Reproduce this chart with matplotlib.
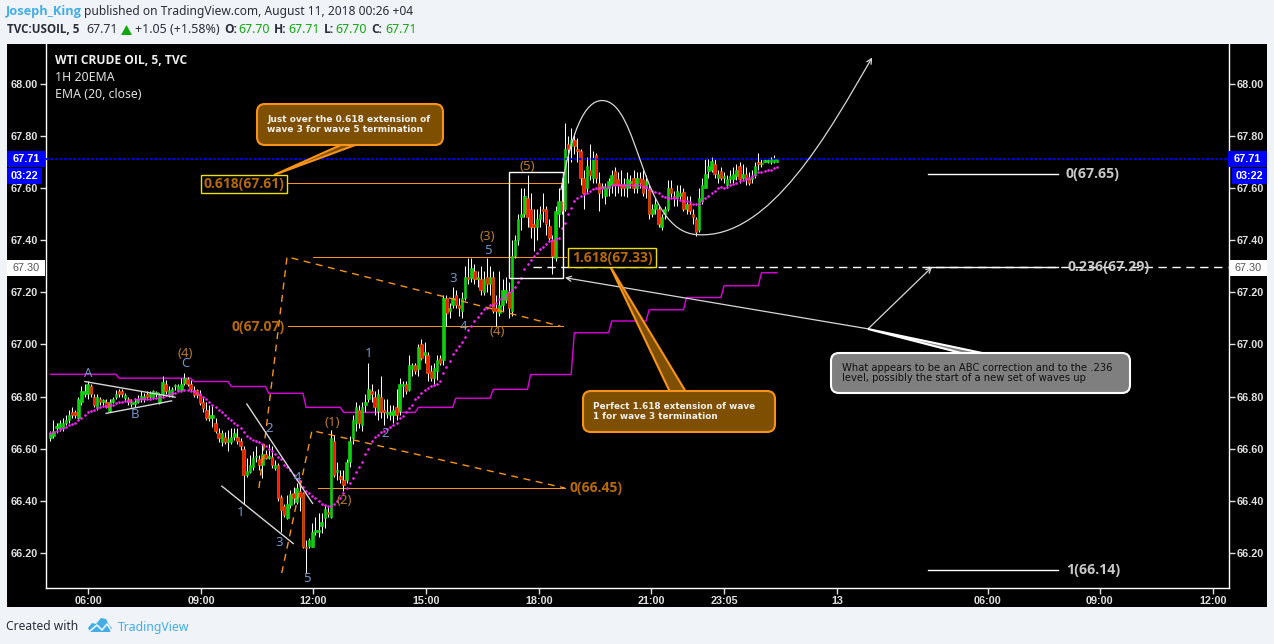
import numpy as np
import matplotlib
matplotlib.use("Agg")
import matplotlib.pyplot as plt
from matplotlib.patches import FancyBboxPatch, FancyArrowPatch, Polygon, Rectangle
from matplotlib.path import Path

# 5 minute candles
opens = [66.64,66.65,66.68,66.68,66.68,66.70,66.71,66.74,66.74,66.72,
    66.78,66.81,66.81,66.84,66.80,66.76,66.79,66.78,66.78,66.745,
    66.78,66.80,66.82,66.82,66.795,66.79,66.772,66.772,66.78,66.79,
    66.79,66.81,66.80,66.80,66.81,66.777,66.81,66.85,66.81,66.807,
    66.84,66.824,66.826,66.854,66.867,66.85,66.826,66.824,66.81,66.78,
    66.75,66.72,66.72,66.698,66.66,66.628,66.647,66.628,66.628,66.647,
    66.647,66.63,66.598,66.50,66.513,66.532,66.568,66.56,66.538,66.58,
    66.566,66.568,66.528,66.54,66.417,66.38,66.336,66.385,66.43,66.395,
    66.44,66.43,66.225,66.228,66.225,66.28,66.28,66.306,66.334,66.358,
    66.338,66.63,66.51,66.497,66.48,66.48,66.55,66.64,66.70,66.75,
    66.69,66.77,66.79,66.82,66.80,66.745,66.80,66.75,66.735,66.73,
    66.73,66.76,66.746,66.84,66.85,66.825,66.905,66.92,66.906,67.00,
    66.96,66.96,66.90,66.87,66.90,66.95,66.94,67.18,67.13,67.15,
    67.19,67.15,67.13,67.18,67.26,67.255,67.28,67.25,67.25,67.20,
    67.26,67.23,67.26,67.14,67.12,67.15,67.17,67.20,67.13,67.34,
    67.40,67.49,67.50,67.56,67.52,67.46,67.45,67.48,67.52,67.52,
    67.455,67.40,67.33,67.50,67.55,67.52,67.77,67.76,67.785,67.75,
    67.74,67.64,67.60,67.67,67.64,67.725,67.62,67.60,67.57,67.60,
    67.61,67.665,67.635,67.615,67.615,67.60,67.62,67.64,67.60,67.64,
    67.635,67.60,67.595,67.50,67.52,67.52,67.45,67.50,67.52,67.60,
    67.57,67.56,67.57,67.585,67.52,67.54,67.50,67.48,67.44,67.55,
    67.60,67.665,67.67,67.69,67.64,67.665,67.64,67.61,67.635,67.635,
    67.645,67.685,67.64,67.655,67.635,67.635,67.65,67.70,67.69,67.70,
    67.70,67.70,67.70,67.70]
highs = [66.67,66.71,66.70,66.71,66.72,66.73,66.75,66.76,66.75,66.80,
    66.84,66.85,66.86,66.85,66.81,66.81,66.80,66.79,66.79,66.79,
    66.80,66.825,66.83,66.83,66.815,66.80,66.79,66.795,66.807,66.82,
    66.814,66.82,66.82,66.826,66.82,66.813,66.88,66.862,66.84,66.836,
    66.85,66.85,66.87,66.89,66.875,66.865,66.84,66.83,66.826,66.80,
    66.78,66.77,66.77,66.717,66.68,66.673,66.666,66.673,66.68,66.68,
    66.68,66.64,66.61,66.564,66.577,66.59,66.61,66.577,66.62,66.596,
    66.62,66.61,66.558,66.545,66.423,66.39,66.423,66.442,66.455,66.468,
    66.468,66.436,66.25,66.257,66.315,66.34,66.353,66.353,66.385,66.378,
    66.672,66.654,66.55,66.52,66.52,66.56,66.65,66.73,66.78,66.77,
    66.78,66.81,66.93,66.85,66.82,66.83,66.88,66.79,66.79,66.77,
    66.77,66.83,66.87,66.86,66.86,66.96,66.93,66.93,67.00,67.02,
    67.01,66.97,66.92,66.93,66.96,66.96,67.19,67.19,67.16,67.22,
    67.21,67.18,67.20,67.30,67.33,67.33,67.31,67.28,67.30,67.28,
    67.33,67.30,67.28,67.19,67.28,67.25,67.26,67.24,67.40,67.42,
    67.50,67.60,67.60,67.65,67.58,67.52,67.52,67.53,67.58,67.53,
    67.48,67.42,67.53,67.60,67.64,67.85,67.80,67.83,67.81,67.79,
    67.75,67.67,67.72,67.77,67.74,67.735,67.66,67.62,67.62,67.64,
    67.67,67.68,67.66,67.67,67.64,67.66,67.65,67.67,67.66,67.66,
    67.67,67.65,67.61,67.54,67.56,67.53,67.50,67.53,67.63,67.63,
    67.59,67.61,67.61,67.60,67.57,67.57,67.52,67.49,67.60,67.64,
    67.71,67.71,67.72,67.71,67.67,67.68,67.66,67.65,67.67,67.68,
    67.69,67.70,67.69,67.68,67.66,67.67,67.70,67.735,67.71,67.71,
    67.71,67.72,67.725,67.71]
lows = [66.63,66.64,66.66,66.67,66.67,66.69,66.70,66.72,66.72,66.71,
    66.77,66.80,66.79,66.80,66.76,66.75,66.77,66.76,66.755,66.74,
    66.775,66.79,66.80,66.80,66.785,66.77,66.762,66.762,66.775,66.78,
    66.78,66.79,66.79,66.79,66.80,66.773,66.80,66.81,66.80,66.80,
    66.825,66.82,66.82,66.845,66.84,66.82,66.80,66.795,66.77,66.743,
    66.71,66.705,66.685,66.66,66.628,66.61,66.62,66.593,66.62,66.634,
    66.62,66.596,66.39,66.494,66.506,66.52,66.55,66.52,66.487,66.56,
    66.56,66.526,66.52,66.40,66.283,66.34,66.333,66.372,66.39,66.39,
    66.36,66.22,66.123,66.22,66.222,66.27,66.263,66.276,66.295,66.34,
    66.334,66.494,66.48,66.47,66.44,66.47,66.53,66.62,66.67,66.68,
    66.67,66.74,66.78,66.78,66.73,66.71,66.72,66.69,66.72,66.71,
    66.70,66.71,66.73,66.80,66.81,66.82,66.88,66.885,66.88,66.94,
    66.93,66.86,66.86,66.85,66.865,66.92,66.92,67.07,67.10,67.14,
    67.14,67.11,67.10,67.17,67.23,67.24,67.23,67.22,67.19,67.19,
    67.20,67.19,67.12,67.07,67.11,67.13,67.16,67.10,67.11,67.33,
    67.38,67.44,67.49,67.45,67.41,67.36,67.40,67.45,67.47,67.42,
    67.40,67.27,67.32,67.45,67.50,67.51,67.62,67.70,67.73,67.70,
    67.61,67.52,67.58,67.63,67.62,67.62,67.51,67.56,67.54,67.57,
    67.58,67.57,67.58,67.57,67.57,67.565,67.60,67.58,67.58,67.60,
    67.57,67.56,67.48,67.49,67.50,67.45,67.44,67.48,67.51,67.56,
    67.53,67.53,67.555,67.51,67.50,67.50,67.46,67.415,67.43,67.54,
    67.60,67.64,67.66,67.64,67.62,67.63,67.62,67.60,67.62,67.62,
    67.63,67.62,67.63,67.61,67.61,67.62,67.64,67.67,67.68,67.70,
    67.695,67.69,67.695,67.70]
closes = [66.66,66.67,66.68,66.70,66.70,66.71,66.73,66.73,66.73,66.79,
    66.82,66.82,66.85,66.81,66.77,66.80,66.78,66.78,66.76,66.78,
    66.79,66.81,66.81,66.81,66.805,66.78,66.78,66.78,66.79,66.803,
    66.803,66.798,66.813,66.82,66.81,66.807,66.858,66.82,66.826,66.83,
    66.84,66.84,66.85,66.87,66.85,66.83,66.807,66.807,66.777,66.758,
    66.72,66.73,66.73,66.67,66.64,66.66,66.628,66.638,66.647,66.66,
    66.63,66.61,66.50,66.517,66.538,66.564,66.568,66.538,66.58,66.566,
    66.57,66.538,66.54,66.41,66.366,66.346,66.387,66.427,66.41,66.449,
    66.417,66.225,66.22,66.25,66.28,66.29,66.29,66.318,66.368,66.35,
    66.64,66.50,66.52,66.483,66.46,66.55,66.63,66.71,66.76,66.70,
    66.76,66.78,66.83,66.81,66.76,66.81,66.74,66.74,66.735,66.74,
    66.75,66.73,66.85,66.85,66.82,66.92,66.92,66.90,66.99,66.95,
    66.97,66.89,66.87,66.91,66.94,66.93,67.18,67.12,67.14,67.18,
    67.15,67.14,67.18,67.26,67.25,67.295,67.25,67.26,67.21,67.25,
    67.23,67.26,67.13,67.13,67.15,67.21,67.21,67.14,67.34,67.40,
    67.48,67.50,67.57,67.49,67.45,67.45,67.48,67.50,67.51,67.46,
    67.41,67.34,67.51,67.55,67.51,67.75,67.75,67.785,67.76,67.74,
    67.64,67.58,67.685,67.65,67.715,67.64,67.58,67.60,67.60,67.625,
    67.65,67.61,67.61,67.60,67.60,67.635,67.62,67.60,67.64,67.62,
    67.58,67.625,67.50,67.52,67.54,67.46,67.49,67.52,67.60,67.58,
    67.56,67.59,67.58,67.52,67.54,67.51,67.49,67.43,67.56,67.61,
    67.655,67.685,67.705,67.655,67.655,67.64,67.64,67.635,67.645,67.655,
    67.67,67.635,67.655,67.635,67.62,67.64,67.685,67.69,67.695,67.705,
    67.70,67.71,67.71,67.71]

# the dotted EMA (20, close)
ema_20 = [66.66,66.665,66.67,66.675,66.68,66.685,66.69,66.695,66.70,66.71,
    66.72,66.73,66.74,66.745,66.75,66.755,66.76,66.765,66.765,66.77,
    66.77,66.775,66.78,66.78,66.785,66.785,66.785,66.79,66.79,66.79,
    66.79,66.79,66.79,66.795,66.795,66.80,66.80,66.805,66.81,66.815,
    66.815,66.82,66.82,66.825,66.825,66.82,66.82,66.815,66.81,66.80,
    66.79,66.78,66.77,66.76,66.75,66.74,66.73,66.72,66.71,66.70,
    66.69,66.68,66.665,66.65,66.64,66.635,66.63,66.625,66.62,66.61,
    66.60,66.59,66.58,66.57,66.56,66.54,66.53,66.52,66.50,66.485,
    66.475,66.455,66.44,66.43,66.42,66.41,66.40,66.39,66.385,66.38,
    66.38,66.39,66.40,66.41,66.43,66.45,66.47,66.49,66.51,66.53,
    66.55,66.58,66.60,66.63,66.645,66.655,66.665,66.67,66.675,66.685,
    66.69,66.70,66.72,66.725,66.74,66.755,66.77,66.79,66.80,66.815,
    66.825,66.835,66.84,66.845,66.85,66.86,66.89,66.915,66.935,66.965,
    66.98,66.995,67.01,67.03,67.055,67.07,67.09,67.105,67.12,67.135,
    67.14,67.15,67.15,67.16,67.175,67.18,67.19,67.20,67.21,67.22,
    67.24,67.255,67.29,67.31,67.325,67.34,67.35,67.365,67.375,67.385,
    67.395,67.40,67.405,67.41,67.445,67.465,67.50,67.525,67.55,67.56,
    67.57,67.575,67.58,67.59,67.595,67.60,67.60,67.60,67.605,67.605,
    67.61,67.61,67.61,67.61,67.61,67.61,67.61,67.61,67.61,67.61,
    67.605,67.605,67.595,67.59,67.585,67.58,67.57,67.565,67.56,67.56,
    67.56,67.56,67.555,67.55,67.55,67.545,67.54,67.54,67.54,67.55,
    67.56,67.57,67.58,67.59,67.60,67.605,67.60,67.605,67.61,67.615,
    67.62,67.625,67.63,67.635,67.64,67.645,67.65,67.66,67.66,67.665,
    67.67,67.67,67.675,67.68]

# the 1H 20EMA holds one level per hour
ema_1h_levels = [66.886,66.871,66.858,66.839,66.813,66.759,66.74,66.759,66.794,66.828,
    66.885,67.045,67.09,67.133,67.18,67.225,67.275]
ema_1h_bars = [22,24,12,12,12,12,24,12,12,12,14,12,12,12,12,12,6]

price_ticks = [68.0,67.8,67.6,67.4,67.2,67.0,66.8,66.6,66.4,66.2]
time_ticks = [12.1,48.3,84.2,120.5,156.7,192.6,216,252.2,300.6,336.5,372.8]
time_labels = ["06:00","09:00","12:00","15:00","18:00","21:00","23:05","13","06:00","09:00","12:00"]
last_price = 67.71

# wave counts: text, x pixel, y pixel
blue_waves = [("A",88,373),("B",135,414),("C",185,363),("1",241,513),("2",269,428),("3",279,542),
    ("4",297,477),("5",307,579),("1",369,353),("2",385,433),("3",453,278),("4",463,326),("5",488,250)]
orange_waves = [("(4)",185,353),("(1)",332,422),("(2)",344,500),("(3)",487,236),("(4)",497,331),("(5)",527,166)]

WIDTH, HEIGHT = 1274, 644
PAGE = "#f0f3f7"
LINK = "#43aee6"
ORANGE = "#f7931a"
BROWN = "#7f4f00"
LABEL_ORANGE = "#b8690a"
GREY = "#e0e0e0"
UI_FONT = "Noto Sans"
BOLD_FONT = "Open Sans"
PRICE_FONT = "Liberation Sans"
ONE_PX = 0.72


def draw_candles(ax):
    bars = np.arange(len(closes))
    o, h, l, c = map(np.array, (opens, highs, lows, closes))
    up = c >= o
    ax.vlines(bars, l, h, color="white", lw=ONE_PX, zorder=3)
    ax.bar(bars[up], np.maximum(c[up] - o[up], 0.006), bottom=o[up], width=0.8, color="#0fd00f",
        edgecolor="#16e016", lw=0.4, zorder=4)
    ax.bar(bars[~up], (o - c)[~up], bottom=c[~up], width=0.8, color="#ff1500",
        edgecolor="#ff7a00", lw=0.4, zorder=4)
    ax.plot(bars, ema_20, ls="", marker="o", ms=1.9, mew=0, color="#ff22ff", zorder=5)
    ax.plot(bars, np.repeat(ema_1h_levels, ema_1h_bars), color="#e000e0", lw=1.0, zorder=2)


def draw_drawings(ax):
    # fib levels
    for x0, x1, y in [(76.2,163.7,67.62),(84.2,165.3,67.337),(76.2,164.4,67.07),(85.8,165,66.45)]:
        ax.plot([x0, x1], [y, y], color=ORANGE, lw=ONE_PX, zorder=2)
    for y in [67.655, 67.297, 66.135]:
        ax.plot([281.4, 323.1], [y, y], color="white", lw=1.0, zorder=6)
    ax.plot([154.8, 377.7], [67.297, 67.297], color="white", lw=1.0, dashes=(6, 4), zorder=2.5)
    ax.axhline(last_price, color="#0000ff", lw=1.3, dashes=(1.5, 1), zorder=6)

    # the two dashed extensions
    ax.plot([74.2,83.9,165], [66.124,66.67,66.45], color=ORANGE, lw=1.0, dashes=(5, 4), zorder=6)
    ax.plot([66.9,75.9,163.6], [66.45,67.336,67.07], color=ORANGE, lw=1.0, dashes=(5, 4), zorder=6)

    # trend lines
    trend = [([11.1,40],[66.858,66.798]),([17.9,38.9],[66.736,66.784]),
        ([63,84.1],[66.772,66.391]),([55,77.9],[66.457,66.237])]
    for xs, ys in trend:
        ax.plot(xs, ys, color="#d8d8d8", lw=1.0, zorder=6)

    ax.add_patch(Rectangle((147.2, 67.254), 17.1, 0.407, fill=False, ec="white", lw=1.0, zorder=6))

    # projected path
    verts = [(163.7,67.593),(167.3,67.823),(171.4,67.935),(176.9,67.935),(189.1,67.935),(189.1,67.432),
        (207.4,67.421),(230.8,67.401),(250,67.823),(263.5,68.10)]
    codes = [Path.MOVETO] + [Path.CURVE4] * 9
    ax.add_patch(FancyArrowPatch(path=Path(verts, codes), arrowstyle="->", mutation_scale=9,
        color="#d8d8d8", lw=0.9, zorder=6))

    # arrows off the grey note
    for tip in [(165, 67.256), (282.7, 67.297)]:
        ax.annotate("", xy=tip, xytext=(262.2, 67.06), zorder=6,
            arrowprops=dict(arrowstyle="->", color="#d8d8d8", lw=0.9, shrinkA=0, shrinkB=0, mutation_scale=9))


def callout(ov, x0, y0, x1, y1, tail, face, edge, lines, color, font, weight, size, text_x):
    ov.add_patch(Polygon(tail, closed=True, fc=face, ec=edge, lw=1.5, zorder=2))
    ov.add_patch(FancyBboxPatch((x0 + 6, y0 + 6), x1 - x0 - 12, y1 - y0 - 12, boxstyle="round,pad=6,rounding_size=8",
        fc=face, ec=edge, lw=1.5, zorder=3))
    mid = (y0 + y1) / 2
    for k, line in enumerate(lines):
        ov.text(text_x, mid + (k - 0.5) * 10, line, color=color, family=font, weight=weight, fontsize=size,
            va="center", ha="left", zorder=4)


def draw_chrome(ov):
    def text(x, y, s, color="#2a2e39", size=8.65, weight="normal", ha="left", family=None):
        family = family or (BOLD_FONT if weight == "bold" else UI_FONT)
        ov.text(x, y, s, color=color, fontsize=size, weight=weight, ha=ha, va="center", family=family)

    # header
    text(6, 11.5, "Joseph_King", LINK, 9.2, "bold")
    text(84, 11.5, "published on TradingView.com, August 11, 2018 00:26 +04")
    text(7, 29.5, "TVC:USOIL, 5", size=8.4, weight="bold")
    text(86, 29.5, "67.71", size=8.9)
    ov.add_patch(Polygon([(121,35),(132,35),(126.5,25)], fc="#13a613", ec="none"))
    text(135, 29.5, "+1.05 (+1.58%)", size=8.95)
    green = "#13a613"
    for x, s, v in [(224,"O:","67.70"),(274,"H:","67.71"),(324,"L:","67.70"),(371,"C:","67.71")]:
        text(x, 29.5, s, weight="bold")
        text(x + 14 if s != "L:" else x + 11, 29.5, v, green, 8.9)

    # chart titles
    text(55, 60, "WTI CRUDE OIL, 5, TVC", "#f0f0f0", weight="bold")
    text(55, 77, "1H 20EMA", "#e0e0e0", 8.85)
    text(55, 94, "EMA (20, close)", "#e0e0e0", 8.85)

    # price tags on both scales
    for x0, x1, w_top, s in [(7,45,151,"67.71"),(1228,1267,151,"67.71")]:
        ov.add_patch(Rectangle((x0, w_top), x1 - x0, 16, fc="#0000ff", ec="none"))
        text((x0 + x1) / 2, w_top + 8, s, "white", 7.8, "bold", "center", PRICE_FONT)
    for x0, x1 in [(7,42),(1232,1267)]:
        ov.add_patch(Rectangle((x0, 168), x1 - x0, 16, fc="#0000ff", ec="none"))
        text((x0 + x1) / 2, 176, "03:22", "white", 7.8, "bold", "center", PRICE_FONT)
    for x0, x1 in [(7,45),(1229,1267)]:
        ov.add_patch(Rectangle((x0, 260), x1 - x0, 16, fc="white", ec="none"))
        text((x0 + x1) / 2, 268, "67.30", "#555555", 7.8, "normal", "center", PRICE_FONT)

    # waves
    for s, x, y in blue_waves:
        text(x, y, s, "#7096cc", 9.5, ha="center")
    for s, x, y in orange_waves:
        text(x, y, s, "#b9782c", 9.5, ha="center")

    # fib labels
    for x0, x1, y0, y1, s in [(201,287,175,193,"0.618(67.61)"),(568,656,248,267,"1.618(67.33)")]:
        ov.add_patch(Rectangle((x0, y0), x1 - x0, y1 - y0, fc="black", ec="#f0e000", lw=1.0, zorder=5))
        ov.text((x0 + x1) / 2, (y0 + y1) / 2, s, color=LABEL_ORANGE, fontsize=10, weight="bold", ha="center",
            va="center", family=BOLD_FONT, zorder=6)
    text(231, 327, "0(67.07)", LABEL_ORANGE, 10, "bold")
    text(570, 488, "0(66.45)", LABEL_ORANGE, 10, "bold")
    text(1065, 174, "0(67.65)", "#c8c8c8", 10.2, "bold")
    text(1067, 267, "0.236(67.29)", "#c8c8c8", 10.2, "bold")
    text(1066, 570, "1(66.14)", "#c8c8c8", 10.2, "bold")

    # notes
    callout(ov, 257, 104, 443, 145, [(274,175),(343,144),(358,144)], BROWN, ORANGE,
        ["Just over the 0.618 extension of", "wave 3 for wave 5 termination"], "#f0f0f0", "DejaVu Sans", "bold", 6.5, 267)
    callout(ov, 583, 391, 775, 432, [(610,266),(670,392),(686,392)], BROWN, ORANGE,
        ["Perfect 1.618 extension of wave", "1 for wave 3 termination"], "#f0f0f0", "DejaVu Sans", "bold", 6.4, 593)
    callout(ov, 831, 353, 1130, 393, [(868,329),(965,354),(987,354)], "#7f7f7f", "white",
        ["What appears to be an ABC correction and to the .236", "level, possibly the start of a new set of waves up"],
        "#111111", "DejaVu Sans", "normal", 7.2, 842)

    # footer
    text(6, 627, "Created with", "#2a2e39", 8.7)
    ov.add_patch(Polygon([(88,628),(92,623),(96,624),(101,618),(106,619),(109,625),(112,628),(110,632),(90,632)],
        fc=LINK, ec="none"))
    ov.plot([90,97,102,107,111], [631,625,630,624,630], color=PAGE, lw=1.2)
    text(118, 627, "TradingView", LINK, 8.8)


def main():
    fig = plt.figure(figsize=(WIDTH / 100, HEIGHT / 100), dpi=100, facecolor=PAGE)
    fig.add_artist(Rectangle((7 / WIDTH, 1 - 607 / HEIGHT), 1260 / WIDTH, 563 / HEIGHT, fc="black", ec="none",
        transform=fig.transFigure, zorder=-1))

    ax = fig.add_axes([45.5 / WIDTH, 1 - 588 / HEIGHT, 1183 / WIDTH, 544 / HEIGHT], facecolor="black")
    ax.set_xlim(-1.54, 377.75)
    ax.set_ylim(66.0667, 68.1517)
    for side in ["left", "right", "bottom"]:
        ax.spines[side].set_color("white")
        ax.spines[side].set_linewidth(1.0)
    ax.spines["top"].set_visible(False)

    ax.set_yticks(price_ticks)
    ax.set_yticklabels(["%.2f" % p for p in price_ticks])
    ax.set_xticks(time_ticks)
    ax.set_xticklabels(time_labels)
    ax.tick_params(axis="y", left=True, right=True, labelleft=True, labelright=True, length=4, width=1, pad=1.5,
        colors=GREY, labelsize=7.8)
    ax.tick_params(axis="x", length=4, width=1, pad=2, colors=GREY, labelsize=7.8)
    for label in ax.get_xticklabels() + ax.get_yticklabels():
        label.set_family(PRICE_FONT)
        label.set_weight("bold")
    for tick in ax.yaxis.get_major_ticks():
        tick.label2.set_family(PRICE_FONT)
        tick.label2.set_weight("bold")

    draw_candles(ax)
    draw_drawings(ax)

    ov = fig.add_axes([0, 0, 1, 1], zorder=5)
    ov.set_xlim(0, WIDTH)
    ov.set_ylim(HEIGHT, 0)
    ov.axis("off")
    draw_chrome(ov)

    fig.savefig("out.png", dpi=100, facecolor=PAGE)


if __name__ == "__main__":
    main()
